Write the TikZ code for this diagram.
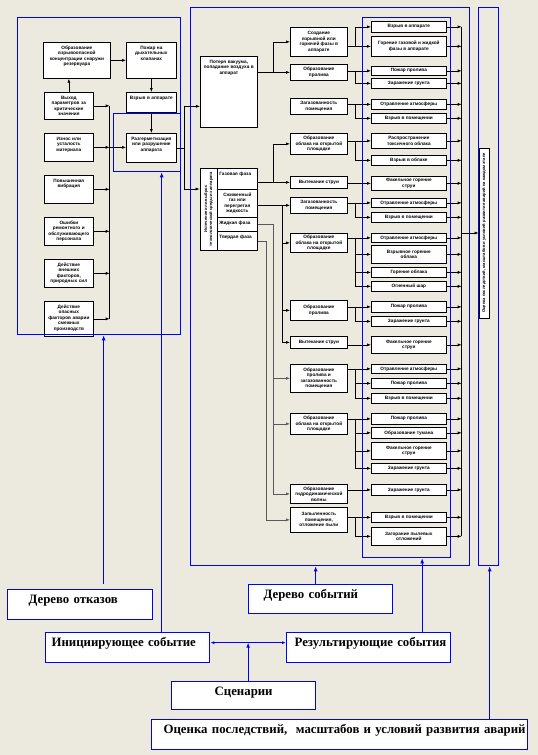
\documentclass[tikz,border=0pt]{standalone}
\usepackage{fontspec}
\setmainfont{Liberation Serif}
\newfontfamily\melk{Liberation Sans}
\usetikzlibrary{arrows.meta,calc}
\definecolor{fon}{RGB}{236,233,222}

\begin{document}
\begin{tikzpicture}[x=1pt,y=-1pt,
    blok/.style={draw, fill=white, line width=0.7pt, inner sep=1pt, align=center, anchor=north west, font=\melk\bfseries\fontsize{4.7}{5.5}\selectfont},
    verh/.style={blok, text height=6pt},
    strel/.style={-{Latex[length=4pt,width=3pt]}, line width=0.6pt},
    ramka/.style={draw=blue, line width=1.3pt, anchor=north west, inner sep=0pt},
    sinij/.style={draw=blue, fill=white, line width=1.3pt, anchor=north west, inner ysep=5pt, text height=9pt, align=left, font=\bfseries\fontsize{12.8}{14}\selectfont},
    bstrel/.style={draw=blue, line width=1.3pt, -{Latex[length=5pt,width=4pt]}}]
        \fill[fon] (0,0) rectangle (538,755);
        \useasboundingbox (0,0) rectangle (538,755);
        % Дерево отказов
        \node[verh, text width=65pt, text depth=28pt] (f1) at (43,42) {Образование\\взрывоопасной\\концентрации снаружи\\резервуара};
        \node[verh, text width=48pt, text depth=28pt] (f2) at (126,42) {Пожар на\\дыхательных\\клапанах};
        \node[verh, text width=47pt, text depth=19pt] (f3) at (44,92) {Выход\\параметров за\\критические\\значения};
        \node[verh, text width=48pt, text depth=12pt] (f4) at (126,92) {Взрыв в аппарате};
        \node[verh, text width=47pt, text depth=20pt] (f5) at (44,133) {Износ или\\усталость\\материала};
        \node[verh, text width=48pt, text depth=21pt] (f6) at (126,133) {Разгерметизация\\или разрушение\\аппарата};
        \node[verh, text width=47pt, text depth=20pt] (f7) at (44,175) {Повышенная\\вибрация};
        \node[verh, text width=47pt, text depth=20pt] (f8) at (44,217) {Ошибки\\ремонтного и\\обслуживающего\\персонала};
        \node[verh, text width=47pt, text depth=20pt] (f9) at (44,259) {Действие\\внешних\\факторов,\\природных сил};
        \node[verh, text width=47pt, text depth=27pt] (f10) at (44,301) {Действие\\опасных\\факторов аварии\\смежных\\производств};
        \draw[strel] (f3.north) -- (f3.north |- f1.south);
        \draw[strel] (f1.east) -- (f1.east -| f2.west);
        \draw[strel] (f2.south) -- (f4.north);
        \draw[strel] (f4.south) -- (f6.north);
        \draw[strel] (f3.east) -- ++(16,0);
        \draw[strel] (f5.east) -- ++(16,0);
        \draw[strel] (f7.east) -- ++(16,0);
        \draw[strel] (f8.east) -- ++(16,0);
        \draw[strel] (f9.east) -- ++(16,0);
        \draw[strel] (f10.east) -- ++(16,0);
        \draw[line width=0.6pt] ([xshift=16pt]f3.east) -- ([xshift=16pt]f10.east);
        \draw[strel] ([xshift=16pt]f5.east) -- (f5.east -| f6.west);
        % Инициирующие события
        \node[verh, text width=55pt, text depth=63pt] (p) at (200,56) {Потеря вакуума,\\попадание воздуха в\\аппарат};
        \node[blok, anchor=center, rotate=90, minimum width=82pt, minimum height=17pt, font=\melk\bfseries\fontsize{4.1}{4.9}\selectfont] (vyb) at (208.5,209) {Истечение или выброс\\технологической среды из аппарата};
        \node[verh, text width=36pt, inner xsep=2pt, align=left, text depth=13pt] (gaz) at (217,168) {Газовая фаза};
        \node[blok, minimum width=40pt, minimum height=28pt] (szh) at (217,189) {Сжиженный\\газ или\\перегретая\\жидкость};
        \node[verh, text width=36pt, inner xsep=2pt, align=left, text depth=6pt] (zhd) at (217,217) {Жидкая фаза};
        \node[verh, text width=36pt, inner xsep=2pt, align=left, text depth=11pt] (tvd) at (217,231) {Твердая фаза};
        \draw[strel] (f6.east) -- ++(8,0) |- ([yshift=-14.5pt]p.west);
        \draw[strel] (f6.east) -- ++(8,0) |- ([yshift=20pt]vyb.north);
        % Промежуточные события
        \node[blok, minimum width=57pt, minimum height=29pt] (e1) at (290,27) {Создание\\взрывной или\\горючей фазы в\\аппарате};
        \node[blok, minimum width=57pt, minimum height=16pt] (e2) at (290,64) {Образование\\пролива};
        \node[blok, minimum width=57pt, minimum height=16pt] (e3) at (290,98) {Загазованность\\помещения};
        \node[blok, minimum width=57pt, minimum height=21pt] (e4) at (290,133) {Образование\\облака на открытой\\площадке};
        \node[blok, minimum width=57pt, minimum height=12pt] (e5) at (290,176) {Вытекание струи};
        \node[blok, minimum width=57pt, minimum height=16pt] (e6) at (290,197) {Загазованность\\помещения};
        \node[blok, minimum width=57pt, minimum height=19pt] (e7) at (290,233) {Образование\\облака на открытой\\площадке};
        \node[blok, minimum width=57pt, minimum height=20pt] (e8) at (290,300) {Образование\\пролива};
        \node[blok, minimum width=57pt, minimum height=12pt] (e9) at (290,336) {Вытекание струи};
        \node[blok, minimum width=57pt, minimum height=28pt] (e10) at (290,364) {Образование\\пролива и\\загазованность\\помещения};
        \node[blok, minimum width=57pt, minimum height=21pt] (e11) at (290,413) {Образование\\облака на открытой\\площадке};
        \node[blok, minimum width=57pt, minimum height=19pt] (e12) at (290,484) {Образование\\гидродинамической\\волны};
        \node[blok, minimum width=57pt, minimum height=25pt] (e13) at (290,507) {Запыленность\\помещения,\\отложение пыли};
        \draw[strel] (p.east |- e2.west) -- (e2.west);
        \draw[strel] (p.east |- e2.west) ++(16,0) |- (e1.west);
        \draw[strel] (gaz.east |- e5.west) -- (e5.west);
        \draw[strel] (gaz.east |- e5.west) ++(16,0) |- (e4.west);
        \draw[strel] (szh.east |- e6.west) -- (e6.west);
        \draw[strel] (szh.east |- e6.west) ++(25,0) |- (e7.west);
        \draw[strel] (szh.east |- e6.west) ++(25,0) |- (e8.west);
        \draw[strel] (szh.east |- e6.west) ++(25,0) |- (e9.west);
        \draw[strel, draw=black!65] (zhd.east) -- ++(16,0) |- (e10.west);
        \draw[strel, draw=black!65] (zhd.east) ++(16,0) |- (e11.west);
        \draw[strel, draw=black!65] (zhd.east) ++(16,0) |- (e12.west);
        \draw[strel, draw=black!65] (tvd.east) -- ++(9,0) |- (e13.west);
        % Результирующие события
        \node[blok, minimum width=75pt, minimum height=11pt] (r1) at (371,21) {Взрыв в аппарате};
        \node[blok, minimum width=75pt, minimum height=20pt] (r2) at (371,36) {Горение газовой и жидкой\\фазы в аппарате};
        \node[blok, minimum width=75pt, minimum height=9pt] (r3) at (371,66) {Пожар пролива};
        \node[blok, minimum width=75pt, minimum height=10pt] (r4) at (371,78) {Заражение грунта};
        \node[blok, minimum width=75pt, minimum height=10pt] (r5) at (371,99) {Отравление атмосферы};
        \node[blok, minimum width=75pt, minimum height=10pt] (r6) at (371,113) {Взрыв в помещении};
        \node[blok, minimum width=75pt, minimum height=15pt] (r7) at (371,133) {Распространение\\токсичного облака};
        \node[blok, minimum width=75pt, minimum height=10pt] (r8) at (371,155) {Взрыв в облаке};
        \node[blok, minimum width=75pt, minimum height=14pt] (r9) at (371,176) {Факельное горение\\струи};
        \node[blok, minimum width=75pt, minimum height=9pt] (r10) at (371,198) {Отравление атмосферы};
        \node[blok, minimum width=75pt, minimum height=10pt] (r11) at (371,212) {Взрыв в помещении};
        \node[blok, minimum width=75pt, minimum height=9pt] (r12) at (371,233) {Отравление атмосферы};
        \node[blok, minimum width=75pt, minimum height=18pt] (r13) at (371,245) {Взрывное горение\\облака};
        \node[blok, minimum width=75pt, minimum height=10pt] (r14) at (371,267) {Горение облака};
        \node[blok, minimum width=75pt, minimum height=10pt] (r15) at (371,281) {Огненный шар};
        \node[blok, minimum width=75pt, minimum height=11pt] (r16) at (371,301) {Пожар пролива};
        \node[blok, minimum width=75pt, minimum height=10pt] (r17) at (371,316) {Заражение грунта};
        \node[blok, minimum width=75pt, minimum height=17pt] (r18) at (371,336) {Факельное горение\\струи};
        \node[blok, minimum width=75pt, minimum height=9pt] (r19) at (371,364) {Отравление атмосферы};
        \node[blok, minimum width=75pt, minimum height=10pt] (r20) at (371,378) {Пожар пролива};
        \node[blok, minimum width=75pt, minimum height=10pt] (r21) at (371,393) {Взрыв в помещении};
        \node[blok, minimum width=75pt, minimum height=11pt] (r22) at (371,413) {Пожар пролива};
        \node[blok, minimum width=75pt, minimum height=11pt] (r23) at (371,427) {Образование тумана};
        \node[blok, minimum width=75pt, minimum height=17pt] (r24) at (371,442) {Факельное горение\\струи};
        \node[blok, minimum width=75pt, minimum height=10pt] (r25) at (371,463) {Заражение грунта};
        \node[blok, minimum width=75pt, minimum height=11pt] (r26) at (371,484) {Заражение грунта};
        \node[blok, minimum width=75pt, minimum height=10pt] (r27) at (371,512) {Взрыв в помещении};
        \node[blok, minimum width=75pt, minimum height=18pt] (r28) at (371,527) {Загорание пылевых\\отложений};
        \draw[strel] (e1.east |- r2.west) -- (r2.west);
        \draw[strel] (e1.east |- r2.west) ++(8,0) |- (r1.west);
        \draw[strel] (e2.east |- r3.west) -- (r3.west);
        \draw[strel] (e2.east |- r3.west) ++(8,0) |- (r4.west);
        \draw[strel] (e3.east |- r5.west) -- (r5.west);
        \draw[strel] (e3.east |- r5.west) ++(8,0) |- (r6.west);
        \draw[strel] (e4.east |- r7.west) -- (r7.west);
        \draw[strel] (e4.east |- r7.west) ++(8,0) |- (r8.west);
        \draw[strel] (e5.east |- r9.west) -- (r9.west);
        \draw[strel] (e6.east |- r10.west) -- (r10.west);
        \draw[strel] (e6.east |- r10.west) ++(8,0) |- (r11.west);
        \draw[strel] (e7.east |- r12.west) -- (r12.west);
        \draw[strel] (e7.east |- r12.west) ++(8,0) |- (r13.west);
        \draw[strel] (e7.east |- r12.west) ++(8,0) |- (r14.west);
        \draw[strel] (e7.east |- r12.west) ++(8,0) |- (r15.west);
        \draw[strel] (e8.east |- r16.west) -- (r16.west);
        \draw[strel] (e8.east |- r16.west) ++(8,0) |- (r17.west);
        \draw[strel] (e9.east |- r18.west) -- (r18.west);
        \draw[strel] (e10.east |- r19.west) -- (r19.west);
        \draw[strel] (e10.east |- r19.west) ++(8,0) |- (r20.west);
        \draw[strel] (e10.east |- r19.west) ++(8,0) |- (r21.west);
        \draw[strel] (e11.east |- r22.west) -- (r22.west);
        \draw[strel] (e11.east |- r22.west) ++(8,0) |- (r23.west);
        \draw[strel] (e11.east |- r22.west) ++(8,0) |- (r24.west);
        \draw[strel] (e11.east |- r22.west) ++(8,0) |- (r25.west);
        \draw[strel] (e12.east |- r26.west) -- (r26.west);
        \draw[strel] (e13.east |- r27.west) -- (r27.west);
        \draw[strel] (e13.east |- r27.west) ++(8,0) |- (r28.west);
        % Оценка последствий
        \node[blok, anchor=center, rotate=90, minimum width=170pt, minimum height=10pt, font=\melk\bfseries\fontsize{4.1}{4.9}\selectfont] (est) at (484,233) {Оценка последствий, масштабов и условий развития аварий на каждом этапе};
        \foreach \i in {1,...,28} \draw[strel] (r\i.east) -- ++(15,0);
        \draw[line width=0.6pt] (r1.east) ++(15,0) -- ([xshift=15pt]r28.east);
        \draw[strel] (est.north -| r1.east) ++(15,0) -- (est.north);
        % Синие рамки
        \node[ramka, minimum width=163pt, minimum height=317pt] (ftree) at (17,17) {};
        \node[ramka, minimum width=67pt, minimum height=58pt] (fraz) at (113,113) {};
        \node[ramka, minimum width=279pt, minimum height=558pt] (fevent) at (190,7) {};
        \node[ramka, minimum width=88pt, minimum height=540pt] (fres) at (362,17) {};
        \node[ramka, minimum width=20pt, minimum height=558pt] (fest) at (478,7) {};
        % Подписи
        \node[sinij, inner xsep=21pt, text width=103pt, text depth=11pt] (dotk) at (7,589) {Дерево отказов};
        \node[sinij, inner xsep=15pt, text width=114pt, text depth=10pt] (dsob) at (248,584) {Дерево событий};
        \node[sinij, inner xsep=6pt, text width=152pt, text depth=11pt] (init) at (45,632) {\mbox{Инициирующее событие}};
        \node[sinij, inner xsep=8pt, text width=148pt, text depth=11pt] (rez) at (286,632) {\mbox{Результирующие события}};
        \node[sinij, inner xsep=5pt, text width=134pt, text depth=9pt, align=center] (scen) at (171,681) {Сценарии};
        \node[sinij, inner xsep=12pt, text width=352pt, text depth=11pt] (ocen) at (151,719) {\mbox{Оценка последствий, \ масштабов и условий развития аварий}};
        \draw[bstrel] ([xshift=23.5pt,yshift=5pt]dotk.north) -- ([xshift=4.5pt]ftree.south);
        \draw[bstrel] ([xshift=34pt]init.north) -- ([xshift=14.5pt]fraz.south);
        \draw[bstrel] ([xshift=-5pt]dsob.north) -- ([xshift=-14.5pt]fevent.south);
        \draw[bstrel] ([xshift=53.5pt]rez.north) -- ([xshift=15.5pt]fres.south);
        \draw[bstrel] ([xshift=150pt]ocen.north) -- ([xshift=1pt]fest.south);
        \draw[bstrel, line width=1pt, {Latex[length=4pt,width=3pt]}-{Latex[length=4pt,width=3pt]}] ([yshift=5pt]init.east) -- coordinate[pos=0.5] (sc) ([yshift=5pt]rez.west);
        \draw[bstrel] (sc |- scen.north) -- (sc);
      \end{tikzpicture}
\end{document}
